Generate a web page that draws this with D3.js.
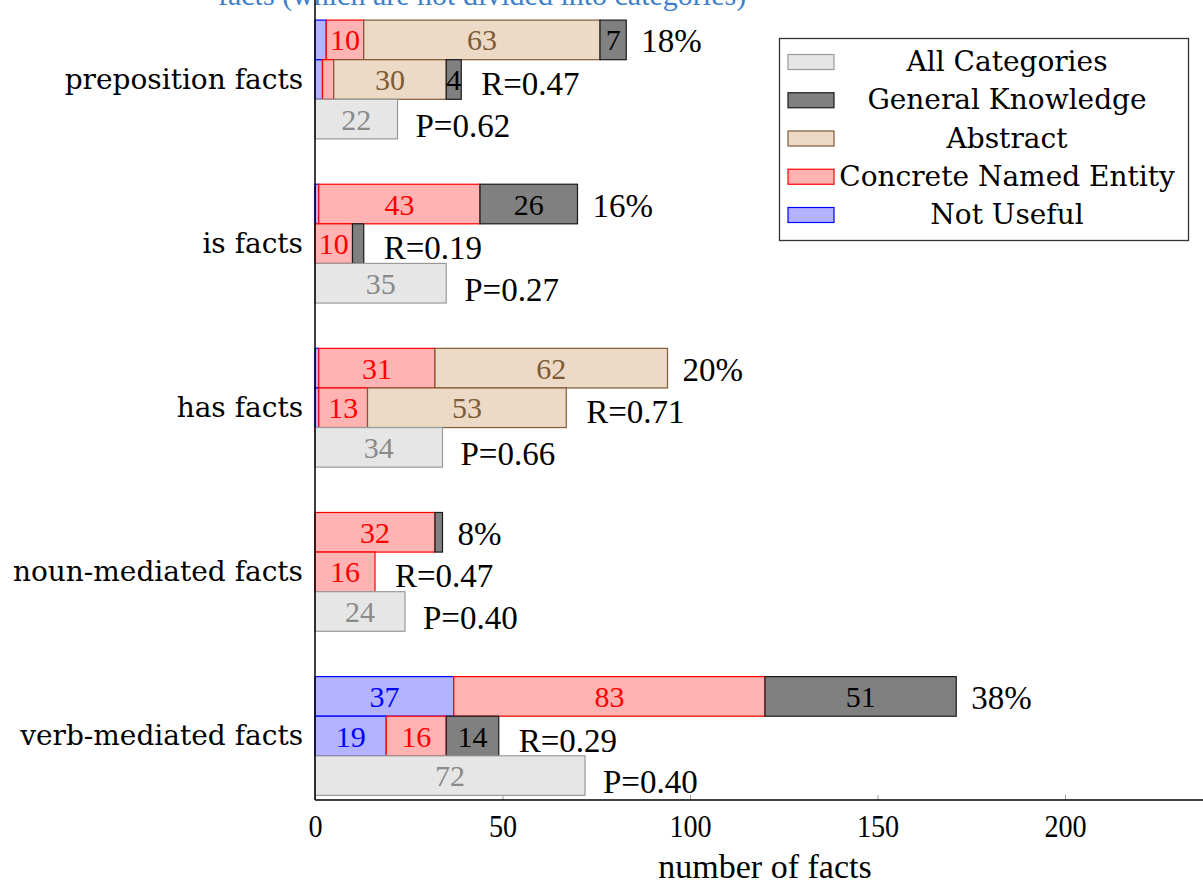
<!DOCTYPE html>
<html>
<head>
<meta charset="utf-8">
<script src="https://cdn.jsdelivr.net/npm/d3@7"></script>
<style>
  html, body { margin: 0; padding: 0; background: #fff; }
  svg { display: block; }
  text { font-family: "Liberation Serif", "DejaVu Serif", serif; }
  .word { font-family: "DejaVu Serif", "Liberation Serif", serif; }
</style>
</head>
<body>
<svg id="chart" width="1203" height="884"></svg>
<script>
// Fact types, top to bottom
const categories = ["preposition facts", "is facts", "has facts", "noun-mediated facts", "verb-mediated facts"];

// Stacked segments, in stacking order: Not Useful, Concrete Named Entity, Abstract, General Knowledge
const seriesKeys = ["Not Useful", "Concrete Named Entity", "Abstract", "General Knowledge"];

// Upper bar of each group
const topNotUseful = [3, 1, 1, 0, 37];
const topConcrete  = [10, 43, 31, 32, 83];
const topAbstract  = [63, 0, 62, 0, 0];
const topGeneral   = [7, 26, 0, 2, 51];

// Middle bar of each group
const midNotUseful = [2, 0, 1, 0, 19];
const midConcrete  = [3, 10, 13, 16, 16];
const midAbstract  = [30, 0, 53, 0, 0];
const midGeneral   = [4, 3, 0, 0, 14];

// Lower bar: all categories together
const allCategories = [22, 35, 34, 24, 72];

// Annotations
const shareLabels = ["18%", "16%", "20%", "8%", "38%"];
const recallLabels = ["R=0.47", "R=0.19", "R=0.71", "R=0.47", "R=0.29"];
const precisionLabels = ["P=0.62", "P=0.27", "P=0.66", "P=0.40", "P=0.40"];

const xTicks = [0, 50, 100, 150, 200];
const legendItems = ["All Categories", "General Knowledge", "Abstract", "Concrete Named Entity", "Not Useful"];

const styles = {
  "All Categories":        { fill: "#e6e6e6", stroke: "#9a9a9a", text: "#8a8a8a" },
  "General Knowledge":     { fill: "#808080", stroke: "#1a1a1a", text: "#000000" },
  "Abstract":              { fill: "#ecdac6", stroke: "#7f5a37", text: "#7f5a37" },
  "Concrete Named Entity": { fill: "#ffb3b3", stroke: "#ff0000", text: "#ff0000" },
  "Not Useful":            { fill: "#b3b3ff", stroke: "#0000ff", text: "#0000ff" }
};

const svg = d3.select("#chart");
const W = 1203, H = 884;

const x = d3.scaleLinear().domain([0, 200]).range([315, 1065]);
const y = d3.scalePoint().domain(categories).range([79.5, 736]);
const barH = 39.6;

// subtitle running off the top edge
svg.append("text")
  .attr("x", 218).attr("y", 5)
  .attr("fill", "#3c80cc")
  .attr("font-size", 30)
  .text("facts (which are not divided into categories)");

// build stacked rows
function rowData(arrs) {
  return categories.map((c, i) => {
    let acc = 0;
    return seriesKeys.map((k, j) => {
      const v = arrs[j][i];
      const seg = { cat: c, key: k, x0: acc, x1: acc + v, v };
      acc += v;
      return seg;
    });
  });
}
const topRows = rowData([topNotUseful, topConcrete, topAbstract, topGeneral]);
const midRows = rowData([midNotUseful, midConcrete, midAbstract, midGeneral]);

function drawRow(rows, offset, cls) {
  const segs = rows.flat().filter(d => d.v > 0);
  const g = svg.append("g").attr("class", cls);
  g.selectAll("rect").data(segs).join("rect")
    .attr("x", d => x(d.x0))
    .attr("y", d => y(d.cat) + offset)
    .attr("width", d => x(d.x1) - x(d.x0))
    .attr("height", barH)
    .attr("fill", d => styles[d.key].fill)
    .attr("stroke", d => styles[d.key].stroke)
    .attr("stroke-width", 1.2);
  g.selectAll("text").data(segs.filter(d => d.v >= 4)).join("text")
    .attr("x", d => (x(d.x0) + x(d.x1)) / 2)
    .attr("y", d => y(d.cat) + offset + barH / 2)
    .attr("dy", "0.35em")
    .attr("text-anchor", "middle")
    .attr("font-size", 30)
    .attr("fill", d => styles[d.key].text)
    .text(d => d.v);
}
drawRow(topRows, -1.5 * barH, "top-bars");
drawRow(midRows, -0.5 * barH, "mid-bars");

// all-categories bars
const allG = svg.append("g").attr("class", "all-bars");
allG.selectAll("rect").data(categories).join("rect")
  .attr("x", x(0))
  .attr("y", c => y(c) + 0.5 * barH)
  .attr("width", (c, i) => x(allCategories[i]) - x(0))
  .attr("height", barH)
  .attr("fill", styles["All Categories"].fill)
  .attr("stroke", styles["All Categories"].stroke)
  .attr("stroke-width", 1.2);
allG.selectAll("text").data(categories).join("text")
  .attr("x", (c, i) => (x(0) + x(allCategories[i])) / 2)
  .attr("y", c => y(c) + barH)
  .attr("dy", "0.35em")
  .attr("text-anchor", "middle")
  .attr("font-size", 30)
  .attr("fill", styles["All Categories"].text)
  .text((c, i) => allCategories[i]);

// annotations to the right of each bar
const ann = svg.append("g").attr("font-size", 33).attr("fill", "#000");
const topEnd = topRows.map(r => r[r.length - 1].x1);
const midEnd = midRows.map(r => r[r.length - 1].x1);
ann.selectAll("text.share").data(categories).join("text").attr("class", "share")
  .attr("x", (c, i) => x(topEnd[i]) + 15)
  .attr("y", c => y(c) - barH + 1)
  .attr("dy", "0.35em")
  .text((c, i) => shareLabels[i]);
ann.selectAll("text.recall").data(categories).join("text").attr("class", "recall")
  .attr("x", (c, i) => x(midEnd[i]) + 20)
  .attr("y", c => y(c) + 4)
  .attr("dy", "0.35em")
  .text((c, i) => recallLabels[i]);
ann.selectAll("text.precision").data(categories).join("text").attr("class", "precision")
  .attr("x", (c, i) => x(allCategories[i]) + 18)
  .attr("y", c => y(c) + barH + 6)
  .attr("dy", "0.35em")
  .text((c, i) => precisionLabels[i]);

// category labels
svg.append("g").selectAll("text").data(categories).join("text")
  .attr("class", "word")
  .attr("x", 303)
  .attr("y", c => y(c))
  .attr("dy", "0.33em")
  .attr("text-anchor", "end")
  .attr("font-size", 28)
  .text(c => c);

// x axis
const axisY = 800;
const xAxis = d3.axisBottom(x).tickValues(xTicks).tickSize(-5).tickPadding(14);
const ax = svg.append("g").attr("transform", `translate(0,${axisY})`).call(xAxis);
ax.select(".domain").remove();
ax.selectAll(".tick line").attr("stroke", "#999").attr("stroke-width", 1);
ax.selectAll(".tick text")
  .attr("font-size", 32)
  .attr("fill", "#000")
  .attr("transform", "scale(0.88,1)");
svg.append("line")
  .attr("x1", x(0)).attr("x2", W)
  .attr("y1", axisY).attr("y2", axisY)
  .attr("stroke", "#000").attr("stroke-width", 1.5);
svg.append("line")
  .attr("x1", x(0)).attr("x2", x(0))
  .attr("y1", 0).attr("y2", axisY)
  .attr("stroke", "#000").attr("stroke-width", 1.5);

svg.append("text")
  .attr("x", 765).attr("y", 878)
  .attr("text-anchor", "middle")
  .attr("font-size", 34)
  .text("number of facts");

// legend
const lg = svg.append("g");
lg.append("rect")
  .attr("x", 779.5).attr("y", 38.5).attr("width", 409).attr("height", 202)
  .attr("fill", "#fff").attr("stroke", "#333").attr("stroke-width", 1.3);
const ly = d3.scalePoint().domain(legendItems).range([62, 215]);
const li = lg.selectAll("g.item").data(legendItems).join("g").attr("class", "item");
li.append("rect")
  .attr("x", 788).attr("y", d => ly(d) - 7.5)
  .attr("width", 46).attr("height", 15)
  .attr("fill", d => styles[d].fill)
  .attr("stroke", d => styles[d].stroke)
  .attr("stroke-width", 1.2);
li.append("text")
  .attr("class", "word")
  .attr("x", 1007).attr("y", d => ly(d))
  .attr("dy", "0.33em")
  .attr("text-anchor", "middle")
  .attr("font-size", 28)
  .text(d => d);
</script>
</body>
</html>
